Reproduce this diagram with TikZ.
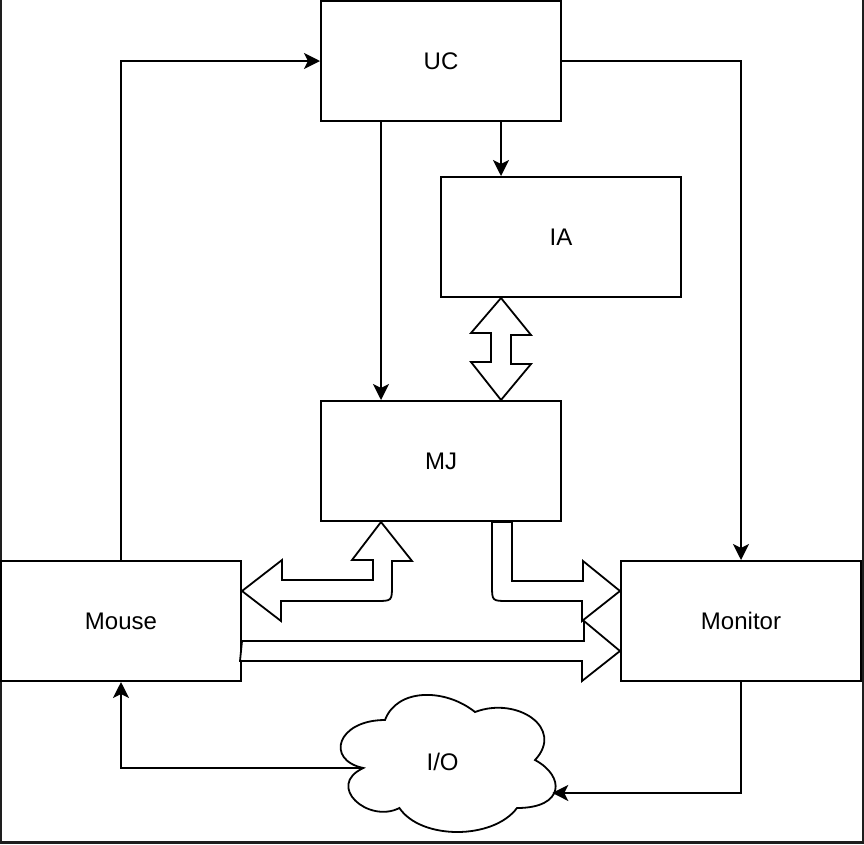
\documentclass[tikz,border=0pt]{standalone}
\usepackage{fontspec}
\setmainfont{Liberation Sans}
\usepackage{xcolor}
\usepackage{tikz}
\usetikzlibrary{arrows.meta,calc}
\definecolor{frameDark}{HTML}{1E1E1E}
\tikzset{
  unitbox/.style={draw, line width=2pt, fill=white, minimum width=240pt, minimum height=120pt,
    inner sep=0pt, font=\fontsize{24}{28}\selectfont},
  link/.style={draw, line width=2pt, -{Stealth[length=16pt, width=16pt, inset=4pt]}},
  fatarrow/.style={draw, line width=1.8pt, fill=white, line join=miter},
}

\begin{document}
\begin{tikzpicture}[x=1pt, y=-1pt]
  \useasboundingbox (0,0) rectangle (864,844);
  \draw[frameDark, line width=3pt] (0,0) -- (0,842.5) -- (863,842.5) -- (863,0);

  \node[unitbox] (uc) at (441,61) {UC};
  \node[unitbox] (ia) at (561,237) {IA};
  \node[unitbox] (mj) at (441,461) {MJ};
  \node[unitbox] (mouse) at (121,621) {Mouse};
  \node[unitbox] (monitor) at (741,621) {Monitor};

  % cloud
  \begin{scope}[shift={(325,680)}, x=240pt, y=-160pt]
    \draw[line width=1.8pt, fill=white] (0.25,0.25)
      .. controls (0.05,0.25) and (0,0.5) .. (0.16,0.55)
      .. controls (0,0.66) and (0.18,0.9) .. (0.31,0.8)
      .. controls (0.4,1) and (0.7,1) .. (0.8,0.8)
      .. controls (1,0.8) and (1,0.6) .. (0.875,0.5)
      .. controls (1,0.3) and (0.8,0.1) .. (0.625,0.2)
      .. controls (0.5,0.05) and (0.3,0.05) .. cycle;
    \node[font=\fontsize{24}{28}\selectfont] (io) at (0.49,0.51) {I/O};
    \coordinate (ioW) at (0.16,0.55);
    \coordinate (ioE) at (0.947,0.706);
  \end{scope}

  \draw[link] (mouse.north) |- (uc.west);
  \draw[link] (uc.east) -| (monitor.north);
  \draw[link] ([xshift=-60pt]uc.south) -- ([xshift=-60pt]mj.north);
  \draw[link] ([xshift=60pt]uc.south) -- ([xshift=-60pt]ia.north);
  \draw[link] (monitor.south) |- (ioE);
  \draw[link] (ioW) -| (mouse.south);

  \coordinate (mjL) at ([xshift=-60pt]mj.south);
  \coordinate (mjR) at ([xshift=51pt]mj.south);
  % IA <-> MJ
  \draw[fatarrow] ([xshift=-60pt]ia.south) -- ++(30,37) -- ++(-20,0) -- ++(0,29) -- ++(20,0)
    -- ([xshift=60pt]mj.north) -- ++(-30,-38) -- ++(20,0) -- ++(0,-29) -- ++(-20,0) -- cycle;
  % MJ <-> Mouse
  \draw[fatarrow] (mjL) -- ++(31,39) -- ++(-20,0) -- ($(mjL)+(11,63)$)
    .. controls ($(mjL)+(11,79)$) .. ($(mjL)+(-5,79)$) -- ($(mjL)+(-100,79)$) -- ++(0,20)
    -- ([yshift=30pt]mouse.east) -- ++(40,-31) -- ++(0,20) -- ++(91,0) -- ++(0,-20) -- ++(-21,0) -- cycle;
  % MJ -> Monitor
  \draw[fatarrow] (mjR) -- ++(20,0) -- ++(0,59) -- ++(71,0) -- ++(0,-20)
    -- ([yshift=30pt]monitor.west) -- ++(-38,30) -- ++(0,-20) -- ($(mjR)+(16,79)$)
    .. controls ($(mjR)+(0,79)$) .. ($(mjR)+(0,63)$) -- cycle;
  % Mouse -> Monitor
  \draw[fatarrow] ([yshift=-20pt]mouse.east) -- ++(342,0) -- ++(0,-20)
    -- ([yshift=-30pt]monitor.west) -- ++(-38,30) -- ++(0,-20) -- ++(-342,0) -- cycle;
\end{tikzpicture}
\end{document}
